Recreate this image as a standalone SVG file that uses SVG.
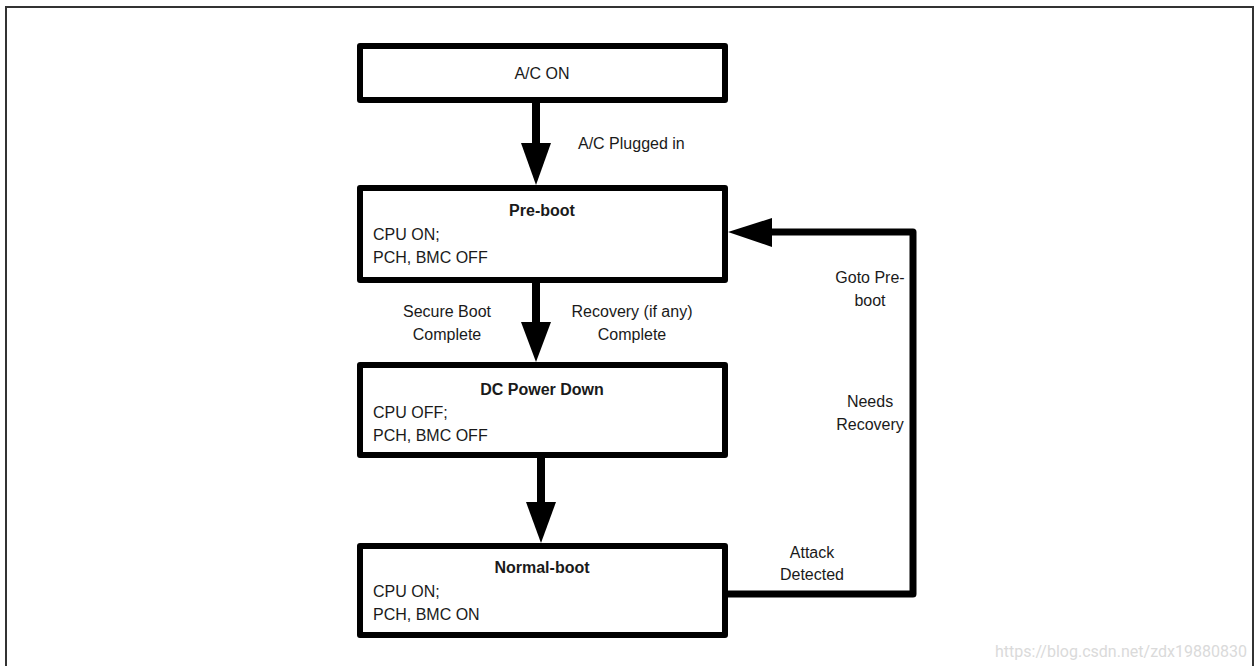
<svg xmlns="http://www.w3.org/2000/svg" width="1255" height="666" viewBox="0 0 1255 666">
<style>
.box{fill:#fff;stroke:#000;stroke-width:6;stroke-linejoin:round}
.t{font-family:"Liberation Sans",Arial,sans-serif;font-size:16px;fill:#1a1a1a}
.b{font-weight:bold}
.c{text-anchor:middle}
.shaft{stroke:#000;stroke-width:8;fill:none}
.loop{stroke:#000;stroke-width:7;fill:none;stroke-linejoin:round}
.head{fill:#000}
</style>
<rect x="0" y="0" width="1255" height="666" fill="#fff"/>
<rect x="6" y="7" width="1247" height="680" fill="none" stroke="#333" stroke-width="2"/>
<g id="node-ac-on">
<rect class="box" x="360" y="46" width="365" height="54"/>
<text class="t c" x="542" y="79">A/C ON</text>
</g>
<g id="node-pre-boot">
<rect class="box" x="360" y="188" width="365" height="92"/>
<text class="t b c" x="542" y="216">Pre-boot</text>
<text class="t" x="373" y="240">CPU ON;</text>
<text class="t" x="373" y="263">PCH, BMC OFF</text>
</g>
<g id="node-dc-power-down">
<rect class="box" x="360" y="365" width="365" height="90"/>
<text class="t b c" x="542" y="395">DC Power Down</text>
<text class="t" x="373" y="418">CPU OFF;</text>
<text class="t" x="373" y="441">PCH, BMC OFF</text>
</g>
<g id="node-normal-boot">
<rect class="box" x="360" y="546" width="365" height="89"/>
<text class="t b c" x="542" y="573">Normal-boot</text>
<text class="t" x="373" y="597">CPU ON;</text>
<text class="t" x="373" y="620">PCH, BMC ON</text>
</g>
<g id="connectors">
<line class="shaft" x1="536" y1="103" x2="536" y2="144"/>
<polygon class="head" points="521,143 551,143 536,185"/>
<text class="t" x="578" y="149">A/C Plugged in</text>
<line class="shaft" x1="536" y1="283" x2="536" y2="323"/>
<polygon class="head" points="521,322 551,322 536,362"/>
<text class="t c" x="447" y="317">Secure Boot</text>
<text class="t c" x="447" y="340">Complete</text>
<text class="t c" x="632" y="317">Recovery (if any)</text>
<text class="t c" x="632" y="340">Complete</text>
<line class="shaft" x1="541" y1="458" x2="541" y2="503"/>
<polygon class="head" points="526,502 556,502 541,543"/>
<path class="loop" d="M728,594 H913 V232 H771"/>
<polygon class="head" points="772,218 772,247 728,232"/>
<text class="t c" x="812" y="558">Attack</text>
<text class="t c" x="812" y="580">Detected</text>
<text class="t c" x="870" y="407">Needs</text>
<text class="t c" x="870" y="430">Recovery</text>
<text class="t c" x="870" y="283">Goto Pre-</text>
<text class="t c" x="870" y="306">boot</text>
</g>
<text x="995" y="657" font-family="Roboto,'Liberation Sans',sans-serif" font-size="16" fill="#dadada" textLength="252" lengthAdjust="spacingAndGlyphs">https://blog.csdn.net/zdx19880830</text>
</svg>
